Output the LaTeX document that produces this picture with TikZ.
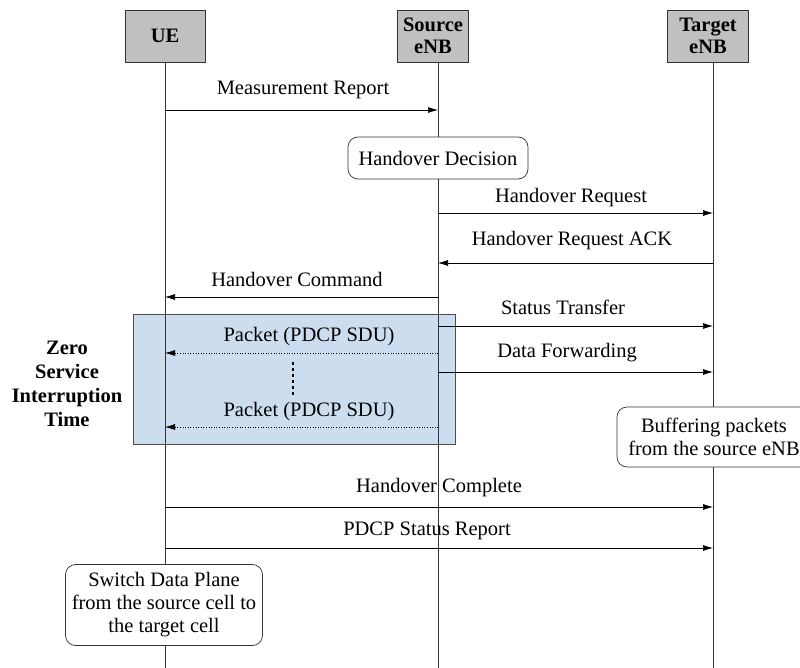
\documentclass[tikz,border=0pt]{standalone}
\usepackage{fontspec}
\setmainfont{Liberation Serif}
\usetikzlibrary{arrows.meta}
\definecolor{zoneblue}{RGB}{205,221,240}
\definecolor{actorgray}{RGB}{192,192,192}
\begin{document}
\begin{tikzpicture}[x=1pt,y=-1pt,
  every node/.style={font=\fontsize{20.5}{23}\selectfont},
  actor/.style={draw=black!80,fill=actorgray,line width=0.8pt,minimum height=52pt,inner sep=2pt,font=\fontsize{20.5}{22}\selectfont\bfseries,align=center},
  life/.style={draw=black!80,line width=0.6pt},
  msg/.style={draw=black,line width=0.6pt,-{Latex[length=10pt,width=6pt]}},
  pkt/.style={draw=black,line width=0.6pt,dotted,-{Latex[length=10pt,width=6pt]}},
  lbl/.style={inner sep=0pt},
  proc/.style={draw=black!80,fill=white,rounded corners=10pt,line width=0.7pt,align=center,inner sep=2pt}]
\useasboundingbox (0,0) rectangle (800,668);
% zero service area
\node[draw=black!70,fill=zoneblue,line width=0.7pt,minimum width=322pt,minimum height=130pt,inner sep=0pt] (zone) at (294,379) {};
% actors
\node[actor,minimum width=80pt] (ue) at (165,36) {UE};
\node[actor,minimum width=71pt] (src) at (433,36) {Source\\eNB};
\node[actor,minimum width=81pt] (tgt) at (708,36) {Target\\eNB};
\coordinate (ueEnd) at (165,668);
\coordinate (srcEnd) at (438,668);
\coordinate (tgtEnd) at (713,668);
\coordinate (ueTop) at (165,62);
\coordinate (srcTop) at (438,62);
\coordinate (tgtTop) at (713,62);
\draw[life] (ueTop) -- (ueEnd);
\draw[life] (srcTop) -- (srcEnd);
\draw[life] (tgtTop) -- (tgtEnd);
% messages
\draw[msg] (ueTop |- 0,110) -- (srcTop |- 0,110);
\node[lbl] (l1) at (303,90) {Measurement Report};
\node[proc,minimum width=180pt,minimum height=42pt] (hd) at (438,158) {Handover Decision};
\draw[msg] (srcTop |- 0,213) -- (tgtTop |- 0,213);
\node[lbl] (l2) at (571,198) {Handover Request};
\draw[msg] (tgtTop |- 0,263) -- (srcTop |- 0,263);
\node[lbl] (l3) at (572,241) {Handover Request ACK};
\draw[msg] (srcTop |- 0,297) -- (ueTop |- 0,297);
\node[lbl] (l4) at (297,279) {Handover Command};
\draw[msg] (srcTop |- 0,326) -- (tgtTop |- 0,326);
\node[lbl] (l5) at (563,307) {Status Transfer};
\draw[pkt] (srcTop |- 0,353) -- (ueTop |- 0,353);
\node[lbl] (p1) at (309,337) {Packet (PDCP SDU)};
\draw[msg] (srcTop |- 0,372) -- (tgtTop |- 0,372);
\node[lbl] (l6) at (567,353) {Data Forwarding};
\coordinate (d1) at (293,362);
\coordinate (d2) at (293,396);
\draw[line width=1.6pt,dash pattern=on 3pt off 3pt] (d1) -- (d2);
\draw[pkt] (srcTop |- 0,427) -- (ueTop |- 0,427);
\node[lbl] (p2) at (309,412) {Packet (PDCP SDU)};
\node[align=center,font=\fontsize{20.5}{24}\selectfont\bfseries] (zt) at (67,384) {Zero\\Service\\Interruption\\Time};
\node[proc,minimum width=194pt,minimum height=60pt] (buf) at (714,437) {Buffering packets\\from the source eNB};
\draw[msg] (ueTop |- 0,507) -- (tgtTop |- 0,507);
\node[lbl] (l7) at (439,488) {Handover Complete};
\draw[msg] (ueTop |- 0,548) -- (tgtTop |- 0,548);
\node[lbl] (l8) at (427,531) {PDCP Status Report};
\node[proc,minimum width=197pt,minimum height=81pt] (sw) at (164,605) {Switch Data Plane\\from the source cell to\\the target cell};
\end{tikzpicture}
\end{document}
